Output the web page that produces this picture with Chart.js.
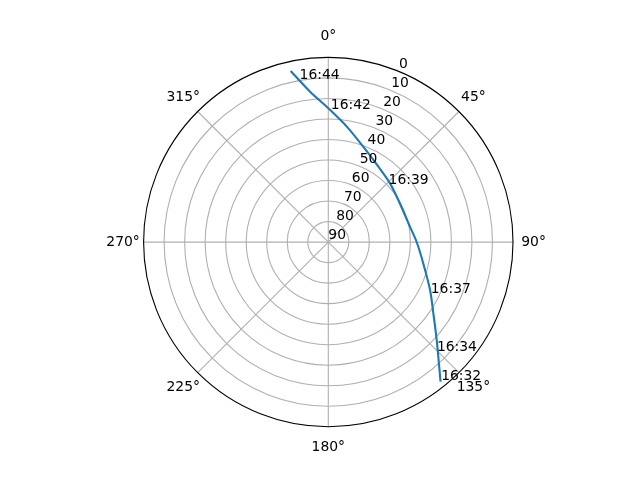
<!DOCTYPE html>
<html>
<head>
<meta charset="utf-8">
<script src="https://cdn.jsdelivr.net/npm/chart.js@4.4.1/dist/chart.umd.min.js"></script>
<style>
  body { margin: 0; background: #fff; }
  #wrap { width: 640px; height: 480px; }
</style>
</head>
<body>
<div id="wrap"><canvas id="chart" width="640" height="480"></canvas></div>
<script>
// pass track, azimuth (deg, clockwise from north) and elevation (deg)
const trackAz = [141.2, 132.1, 124.1, 115.2, 102.6, 90.1, 79.3, 59.0, 46.4, 33.6, 20.1, 9.1, 0.0, 353.1, 347.6];
const trackEl = [2.7, 18.8, 28.2, 35.2, 42.6, 46.9, 49.5, 50.2, 48.5, 45.9, 40.5, 33.0, 24.8, 16.2, 4.6];

// time labels along the pass
const labelTimes = ['16:32', '16:34', '16:37', '16:39', '16:42', '16:44'];
const labelAz = [140.8, 135.2, 116.5, 46.2, 1.1, 350.0];
const labelEl = [3.0, 14.9, 34.2, 49.3, 25.3, 9.4];

// axis ticks
const thetaTicks = [0, 45, 90, 135, 180, 225, 270, 315];
const elevTicks = [0, 10, 20, 30, 40, 50, 60, 70, 80, 90];

const FONT = '13.9px "DejaVu Sans"';

// polar -> plane, radius is 90 - elevation (zenith in the middle)
function toXY(az, el) {
  const r = 90 - el;
  const a = az * Math.PI / 180;
  return { x: r * Math.sin(a), y: r * Math.cos(a) };
}

const trackPts = trackAz.map((az, i) => toXY(az, trackEl[i]));
const labelPts = labelAz.map((az, i) => toXY(az, labelEl[i]));

// grid, spine and tick labels drawn from the chart's own x/y scales
const polarGrid = {
  id: 'polarGrid',
  beforeDatasetsDraw(chart) {
    const ctx = chart.ctx;
    const xs = chart.scales.x, ys = chart.scales.y;
    const cx = xs.getPixelForValue(0), cy = ys.getPixelForValue(0);
    const px = (r) => xs.getPixelForValue(r) - cx;

    ctx.save();
    ctx.strokeStyle = '#b0b0b0';
    ctx.lineWidth = 1.1;
    elevTicks.forEach(v => {
      if (v === 0 || v === 90) return;
      ctx.beginPath();
      ctx.arc(cx, cy, px(90 - v), 0, Math.PI * 2);
      ctx.stroke();
    });
    thetaTicks.forEach(t => {
      const p = toXY(t, 0);
      ctx.beginPath();
      ctx.moveTo(cx, cy);
      ctx.lineTo(xs.getPixelForValue(p.x), ys.getPixelForValue(p.y));
      ctx.stroke();
    });
    // outer spine
    ctx.strokeStyle = '#000';
    ctx.beginPath();
    ctx.arc(cx, cy, px(90), 0, Math.PI * 2);
    ctx.stroke();
    ctx.restore();
  },
  afterDatasetsDraw(chart) {
    const ctx = chart.ctx;
    const xs = chart.scales.x, ys = chart.scales.y;
    ctx.save();
    ctx.font = FONT;
    ctx.fillStyle = '#000';

    // theta labels, centred just outside the spine
    ctx.textAlign = 'center';
    ctx.textBaseline = 'middle';
    thetaTicks.forEach(t => {
      const p = toXY(t, -10);
      ctx.fillText(t + '°', xs.getPixelForValue(p.x), ys.getPixelForValue(p.y));
    });

    // elevation labels along 22.5°
    ctx.textAlign = 'left';
    ctx.textBaseline = 'alphabetic';
    elevTicks.forEach(v => {
      const p = toXY(22.5, v);
      ctx.fillText(String(v), xs.getPixelForValue(p.x), ys.getPixelForValue(p.y) - 3.3);
    });

    // time labels at the label dataset points
    const meta = chart.getDatasetMeta(1);
    meta.data.forEach((el, i) => {
      ctx.fillText(labelTimes[i], el.x, el.y);
    });
    ctx.restore();
  }
};

const ctx = document.getElementById('chart').getContext('2d');
const chart = new Chart(ctx, {
  type: 'scatter',
  data: {
    datasets: [{
      data: trackPts,
      showLine: true,
      borderColor: '#1f77b4',
      borderWidth: 2.1,
      pointRadius: 0,
      tension: 0.3,
      fill: false
    }, {
      data: labelPts,
      showLine: false,
      pointRadius: 0
    }]
  },
  options: {
    responsive: false,
    animation: false,
    devicePixelRatio: 1,
    layout: { padding: { left: 143.6, right: 127, top: 57.4, bottom: 53.2 } },
    scales: {
      x: { type: 'linear', min: -90, max: 90, display: false },
      y: { type: 'linear', min: -90, max: 90, display: false }
    },
    plugins: {
      legend: { display: false },
      tooltip: { enabled: false }
    }
  },
  plugins: [polarGrid]
});
</script>
</body>
</html>
